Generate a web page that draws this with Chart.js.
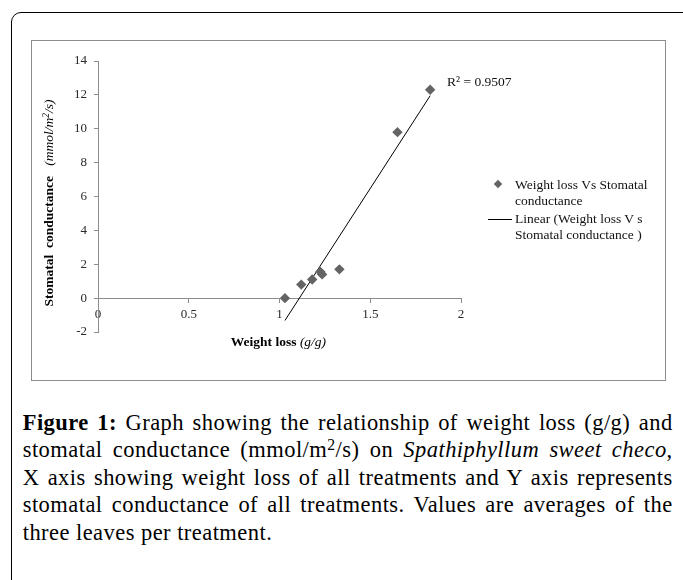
<!DOCTYPE html>
<html>
<head>
<meta charset="utf-8">
<script src="https://cdn.jsdelivr.net/npm/chart.js@4.4.1/dist/chart.umd.min.js"></script>
<style>
html,body{margin:0;padding:0;width:683px;height:580px;overflow:hidden;background:#fff;}
body{position:relative;font-family:"Liberation Serif","DejaVu Serif",serif;color:#000;}
#outer{position:absolute;left:11px;top:12px;width:700px;height:620px;border:1.5px solid #000;border-radius:10px;box-sizing:border-box;}
#frame{position:absolute;left:31px;top:40px;width:635px;height:341px;border:1px solid #8c8c8c;box-sizing:border-box;}
#cv{position:absolute;left:31px;top:40px;width:635px;height:341px;}
.abs{position:absolute;white-space:nowrap;}
.leg{font-size:13.5px;line-height:16px;color:#111;}
#ytitle{left:-81px;top:194.5px;width:260px;height:16px;line-height:16px;text-align:center;font-size:13.5px;transform:rotate(-90deg);transform-origin:50% 50%;}
#xtitle{left:0;width:557px;top:334px;line-height:16px;text-align:center;font-size:13.5px;}
sup{font-size:70%;vertical-align:0;position:relative;top:-0.45em;line-height:0;}
#caption{position:absolute;left:22.7px;top:408.7px;width:650px;font-size:22.5px;line-height:27.5px;letter-spacing:0.45px;}
.cl{white-space:nowrap;}
.cl span{display:inline-block;}
</style>
</head>
<body>
<div id="outer"></div>
<div id="frame"></div>
<canvas id="cv" width="635" height="341"></canvas>

<div class="abs" id="ytitle"><b>Stomatal&nbsp; conductance</b>&nbsp;&nbsp; <i>(mmol/m<sup>2</sup>/s)</i></div>
<div class="abs" id="xtitle"><b>Weight loss</b> <i>(g/g)</i></div>
<div class="abs" style="left:447px;top:74px;font-size:13.5px;line-height:16px;color:#111;">R² = 0.9507</div>

<div class="abs" style="left:495px;top:181px;width:6px;height:6px;background:#646464;transform:rotate(45deg);"></div>
<div class="abs leg" style="left:515px;top:177px;">Weight loss Vs Stomatal<br>conductance</div>
<div class="abs" style="left:488px;top:219px;width:24px;height:1px;background:#000;"></div>
<div class="abs leg" style="left:515px;top:211px;">Linear (Weight loss V s<br>Stomatal conductance )</div>

<div id="caption">
<div class="cl"><span><b>Figure 1:</b> Graph showing the relationship of weight loss (g/g) and</span></div>
<div class="cl"><span>stomatal conductance (mmol/m<sup>2</sup>/s) on <i>Spathiphyllum sweet checo</i>,</span></div>
<div class="cl"><span>X axis showing weight loss of all treatments and Y axis represents</span></div>
<div class="cl"><span>stomatal conductance of all treatments. Values are averages of the</span></div>
<div class="cl last"><span>three leaves per treatment.</span></div>
</div>

<script>
// ---- data ----
const weightLoss = [1.03, 1.12, 1.18, 1.225, 1.235, 1.33, 1.65, 1.83];
const conductance = [0.0, 0.8, 1.1, 1.55, 1.4, 1.7, 9.8, 12.3];
const trendX = [1.03, 1.83];
const trendY = [-1.32, 11.95];
const xTicks = [0, 0.5, 1, 1.5, 2];
const yTicks = [-2, 0, 2, 4, 6, 8, 10, 12, 14];
const xTickLabels = ['0', '0.5', '1', '1.5', '2'];
const yTickLabels = ['-2', '0', '2', '4', '6', '8', '10', '12', '14'];

// ---- justify caption lines ----
(function(){
  const target = 650;
  document.querySelectorAll('#caption .cl').forEach(function(line){
    if (line.classList.contains('last')) return;
    const span = line.querySelector('span');
    const w = span.getBoundingClientRect().width;
    const n = (span.textContent.match(/ /g) || []).length;
    if (n > 0) span.style.wordSpacing = ((target - w) / n) + 'px';
  });
})();

const scatterPts = weightLoss.map((x, i) => ({x: x, y: conductance[i]}));
const trendPts = trendX.map((x, i) => ({x: x, y: trendY[i]}));

const axisColor = '#8c8c8c';
const serif = '"Liberation Serif", "Times New Roman", serif';
Chart.defaults.font.family = serif;
Chart.defaults.font.size = 13;

new Chart(document.getElementById('cv'), {
  type: 'scatter',
  data: {
    datasets: [
      {
        label: 'Weight loss Vs Stomatal conductance',
        data: scatterPts,
        pointStyle: 'rectRot',
        pointRadius: 5.2,
        pointBackgroundColor: '#646464',
        pointBorderColor: '#646464',
        pointBorderWidth: 0,
        showLine: false
      },
      {
        type: 'line',
        label: 'Linear (Weight loss Vs Stomatal conductance )',
        data: trendPts,
        borderColor: '#000',
        borderWidth: 1,
        pointRadius: 0,
        fill: false
      }
    ]
  },
  options: {
    responsive: false,
    animation: false,
    events: [],
    layout: {padding: {left: 7, top: 21, right: 205, bottom: 49}},
    plugins: {legend: {display: false}, tooltip: {enabled: false}},
    scales: {
      x: {
        type: 'linear',
        position: {y: 0},
        min: 0, max: 2,
        afterBuildTicks: s => { s.ticks = xTicks.map(v => ({value: v})); },
        ticks: {
          font: {family: serif, size: 13}, color: '#2a2a2a', padding: 5, maxRotation: 0,
          callback: (v) => { const i = xTicks.indexOf(v); return i >= 0 ? xTickLabels[i] : ''; }
        },
        grid: {drawOnChartArea: false, drawTicks: true, tickLength: 4, color: axisColor},
        border: {display: true, color: axisColor, width: 1}
      },
      y: {
        type: 'linear',
        position: 'left',
        min: -2, max: 14,
        afterBuildTicks: s => { s.ticks = yTicks.map(v => ({value: v})); },
        afterFit: s => { s.width = 60; },
        ticks: {
          font: {family: serif, size: 13}, color: '#2a2a2a', padding: 7,
          callback: (v) => { const i = yTicks.indexOf(v); return i >= 0 ? yTickLabels[i] : ''; }
        },
        grid: {drawOnChartArea: false, drawTicks: true, tickLength: 4, color: axisColor},
        border: {display: true, color: axisColor, width: 1}
      }
    }
  }
});
</script>
</body>
</html>
